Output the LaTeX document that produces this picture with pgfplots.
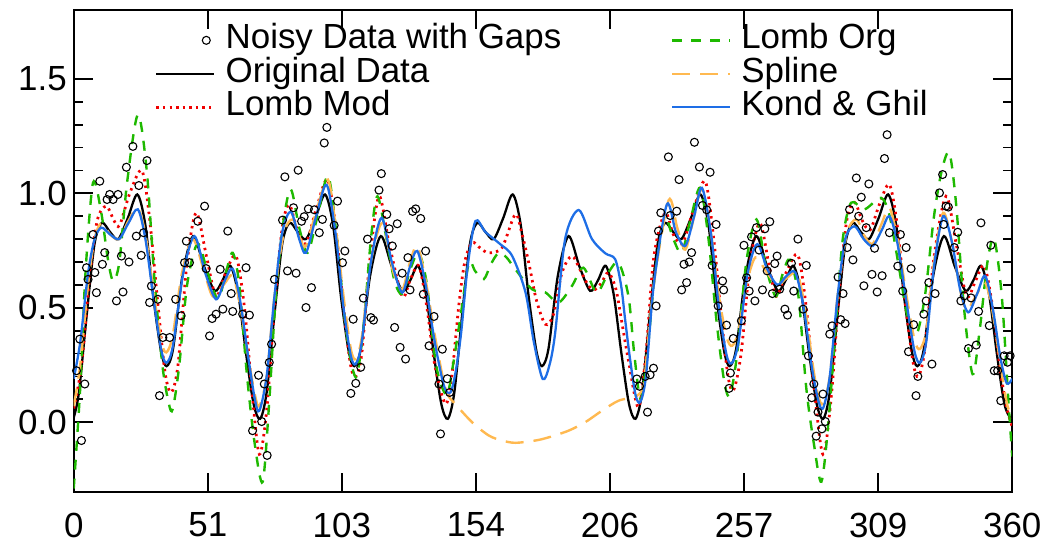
\documentclass[border=0pt]{standalone}
\usepackage{fontspec}
\setmainfont{Liberation Sans}
\usepackage{pgfplots}
\pgfplotsset{compat=1.18}
\usepackage{pgfplotstable}

\definecolor{lombred}{RGB}{240,0,0}
\definecolor{lombgreen}{RGB}{30,185,0}
\definecolor{splineorange}{RGB}{255,185,80}
\definecolor{kgblue}{RGB}{30,110,230}

% noisy samples (gap between 144 and 216)
\pgfplotstableread{
x y
1.07 0.225
2.33 0.363
2.97 -0.08
4.25 0.167
4.9 0.675
5.5 0.624
7.4 0.82
8.1 0.654
8.7 0.566
10.0 1.053
11.0 0.69
11.9 0.741
12.8 0.973
13.8 0.995
15.1 0.973
16.4 0.53
17.0 0.995
18.3 0.726
18.9 0.569
20.2 1.114
21.2 0.70
22.7 1.205
24.0 0.813
25.0 1.034
25.9 0.729
26.8 0.828
28.1 1.143
29.1 0.523
29.8 0.595
32.3 0.537
32.9 0.116
34.2 0.37
36.8 0.37
39.1 0.537
41.2 0.465
42.5 0.697
43.2 0.791
44.4 0.697
47.6 0.878
50.2 0.944
50.8 0.671
52.1 0.377
53.1 0.453
54.6 0.472
56.2 0.668
57.2 0.494
59.1 0.835
60.4 0.562
61.0 0.484
64.8 0.472
66.1 0.675
67.4 0.468
68.6 -0.037
70.9 0.205
72.1 0.003
73.1 0.167
74.2 -0.145
75.0 0.261
75.9 0.341
77.0 0.624
80.1 0.883
81.0 1.072
82.0 0.661
84.3 0.937
85.3 0.651
86.1 1.101
87.4 0.878
88.4 0.898
89.1 0.501
90.0 0.932
91.2 0.588
92.3 0.928
94.2 0.828
95.4 0.886
96.1 1.22
97.1 1.288
99.9 0.86
101.2 0.966
103.1 0.697
104.0 0.748
106.3 0.126
107.2 0.45
108.2 0.17
110.1 0.24
111.1 0.542
112.7 0.80
114.0 0.457
115.0 0.446
117.1 1.014
118.0 1.086
120.1 0.908
121.0 0.845
122.2 0.77
123.1 0.414
124.1 0.867
125.2 0.327
126.0 0.651
127.3 0.276
128.2 0.719
129.0 0.578
130.0 0.921
131.2 0.932
133.1 0.89
134.1 0.559
135.0 0.748
136.3 0.334
138.2 0.462
140.1 0.167
140.7 -0.051
141.4 0.319
143.3 0.19
144.2 0.13
216.0 0.189
217.0 0.157
219.2 0.20
220.1 0.044
221.1 0.207
222.4 0.236
223.4 0.508
224.3 0.835
225.2 0.915
228.1 1.159
228.8 0.903
231.3 0.922
232.2 1.06
233.2 0.578
234.1 0.69
235.1 0.61
236.1 0.70
237.0 0.741
238.1 1.223
240.0 1.115
241.2 0.947
242.8 0.928
244.1 1.092
244.9 0.685
246.4 0.864
247.2 0.508
248.9 0.617
249.3 0.578
250.4 0.424
251.4 0.148
251.9 0.215
253.0 0.366
256.1 0.443
257.1 0.773
258.1 0.631
259.1 0.573
260.0 0.81
261.3 0.53
261.9 0.85
262.9 0.752
264.2 0.578
265.1 0.845
266.0 0.661
267.0 0.876
268.0 0.562
268.9 0.693
269.8 0.726
270.8 0.581
272.8 0.494
273.8 0.468
275.3 0.694
276.2 0.573
277.8 0.80
279.8 0.494
281.0 0.685
281.8 0.29
283.1 0.107
283.9 0.167
284.8 -0.061
285.5 0.044
287.0 -0.029
287.4 0.123
288.3 0.003
290.0 0.385
290.9 0.421
293.2 0.634
294.2 0.448
295.1 0.562
295.9 0.431
296.7 0.763
297.6 0.929
298.9 0.709
300.2 1.067
301.1 0.90
302.1 0.983
303.1 0.596
304.0 0.85
305.0 1.041
306.2 0.646
307.2 0.76
308.2 0.569
310.1 0.64
311.0 1.152
312.0 1.256
312.9 0.828
316.1 0.682
317.1 0.82
318.0 0.573
319.3 0.763
320.2 0.308
321.2 0.671
322.2 0.426
323.1 0.116
323.8 0.20
326.1 0.472
327.0 0.53
328.0 0.61
329.2 0.254
330.4 0.562
332.1 1.002
333.3 1.082
333.7 0.864
334.6 0.944
335.5 0.94
337.8 0.763
339.1 0.83
340.3 0.53
341.6 0.552
343.2 0.322
344.2 0.543
346.2 0.337
347.1 0.484
348.0 0.871
351.2 0.422
351.8 0.773
353.1 0.225
354.4 0.225
355.6 0.094
356.9 0.29
358.2 0.262
359.2 0.29
}\noisy

% original signal
\pgfplotstableread{
x y
0 0.02
2.0 0.13
5.0 0.47
8.0 0.78
10.8 0.871
14.0 0.83
17.1 0.80
20.7 0.89
24.4 0.995
27.5 0.86
30.5 0.55
33.5 0.31
35.6 0.245
38.1 0.32
41.7 0.64
45.8 0.813
50.0 0.68
54.1 0.574
57.1 0.62
60.1 0.683
63.1 0.56
66.1 0.30
69.0 0.08
71.5 0.015
74.0 0.13
77.0 0.47
80.0 0.78
82.8 0.871
86.0 0.83
89.1 0.80
92.7 0.89
96.4 0.995
99.5 0.86
102.5 0.55
105.5 0.31
107.6 0.245
110.1 0.32
113.7 0.64
117.8 0.813
122.0 0.68
126.1 0.574
129.1 0.62
132.1 0.683
135.1 0.56
138.1 0.30
141.0 0.08
143.5 0.015
146.0 0.13
149.0 0.47
152.0 0.78
154.8 0.871
158.0 0.83
161.1 0.80
164.7 0.89
168.4 0.995
171.5 0.86
174.5 0.55
177.5 0.31
179.6 0.245
182.1 0.32
185.7 0.64
189.8 0.813
194.0 0.68
198.1 0.574
201.1 0.62
204.1 0.683
207.1 0.56
210.1 0.30
213.0 0.08
215.5 0.015
218.0 0.13
221.0 0.47
224.0 0.78
226.8 0.871
230.0 0.83
233.1 0.80
236.7 0.89
240.4 0.995
243.5 0.86
246.5 0.55
249.5 0.31
251.6 0.245
254.1 0.32
257.7 0.64
261.8 0.813
266.0 0.68
270.1 0.574
273.1 0.62
276.1 0.683
279.1 0.56
282.1 0.30
285.0 0.08
287.5 0.015
290.0 0.13
293.0 0.47
296.0 0.78
298.8 0.871
302.0 0.83
305.1 0.80
308.7 0.89
312.4 0.995
315.5 0.86
318.5 0.55
321.5 0.31
323.6 0.245
326.1 0.32
329.7 0.64
333.8 0.813
338.0 0.68
342.1 0.574
345.1 0.62
348.1 0.683
351.1 0.56
354.1 0.30
357.0 0.08
359.5 0.015
360 0.02
}\original

% modified Lomb reconstruction
\pgfplotstableread{
x y
0 0.06
3 0.25
6 0.62
9 0.88
12.5 0.944
15.5 0.88
17.6 0.86
21.5 1.0
26.1 1.10
29 0.9
32 0.55
35 0.22
37.4 0.13
40 0.25
43.5 0.70
47 0.915
51 0.72
54.6 0.55
58.5 0.66
62.3 0.725
65.5 0.50
68.5 0.12
71.2 -0.14
74 0.05
77 0.50
80 0.85
82.7 0.95
86 0.83
89.1 0.78
93 0.93
97.3 1.06
100.5 0.85
103.5 0.50
106.2 0.25
108.2 0.20
110.5 0.30
113.5 0.70
117.1 0.987
121 0.78
126 0.55
129 0.62
132.4 0.683
135.5 0.50
138.5 0.25
142.6 0.08
145 0.20
147.7 0.508
150 0.70
152.8 0.785
156 0.76
159.2 0.74
164.3 0.763
169.4 0.908
172 0.82
174.8 0.683
177.4 0.537
180.9 0.428
184 0.47
187.3 0.654
191.1 0.726
194.5 0.66
197.5 0.595
200 0.58
202.5 0.61
205.1 0.654
208 0.58
210.5 0.42
212.8 0.27
216.6 0.065
219.5 0.30
222.5 0.72
226.8 0.915
230 0.82
233.5 0.78
237.5 0.92
242.2 1.053
245.5 0.80
248.5 0.45
251 0.20
253.1 0.14
256 0.30
259.5 0.70
263.2 0.87
266.5 0.70
269.5 0.55
273.5 0.66
277.8 0.73
281 0.50
284 0.15
287.4 -0.14
290.5 0.10
293.5 0.55
296.5 0.88
299.5 0.96
302.5 0.88
305.5 0.84
309 0.95
312.9 1.038
316 0.85
319 0.52
322 0.26
324 0.20
326.5 0.32
330 0.72
334.6 0.987
338.5 0.78
342.5 0.55
346 0.62
349.3 0.683
352.5 0.50
355.5 0.22
358 0.06
360 -0.02
}\lombmod

% original Lomb reconstruction
\pgfplotstableread{
x y
0 -0.29
2.5 0.15
4.5 0.65
7.4 1.046
10.5 0.92
13 0.72
15.1 0.617
17.5 0.70
20.5 1.05
24.6 1.343
28 1.10
31 0.62
34 0.25
36.5 0.08
38 0.058
40.5 0.25
43.5 0.60
47.5 0.78
51.5 0.65
55.4 0.537
58.5 0.66
61 0.74
63.5 0.60
66.5 0.20
69.5 -0.10
72.5 -0.26
75 0.09
77.5 0.55
80.5 0.88
83.3 1.017
86.5 0.85
89.7 0.74
93.5 0.90
97.6 1.075
101 0.80
104.5 0.40
108.2 0.196
111 0.40
114 0.80
116.5 0.987
120 0.80
123 0.62
126 0.56
129.5 0.68
132.4 0.74
135.5 0.60
139 0.25
143 0.12
145.5 0.25
148.6 0.48
151.6 0.697
154 0.66
157.3 0.625
160 0.69
163 0.74
166 0.72
169.4 0.668
175.8 0.581
180.9 0.567
186 0.523
191.1 0.595
195.5 0.675
200.6 0.567
205.1 0.654
209 0.697
212.8 0.55
215 0.30
217.5 0.10
220 0.30
223 0.65
226.8 0.886
230 0.80
233.2 0.74
236.5 0.88
240.3 1.024
243.5 0.80
246.5 0.45
249.5 0.18
251.7 0.116
254.5 0.30
258 0.70
261.9 0.886
265.5 0.68
269.3 0.55
272 0.65
274.7 0.71
278 0.55
281 0.15
284 -0.10
286.8 -0.26
289.5 0.00
292.5 0.45
295 0.80
298.2 0.959
303.3 0.93
309.7 0.98
313 0.90
316.5 0.68
320 0.45
323.1 0.377
326.5 0.55
330 0.90
333 1.10
335.9 1.176
338.5 0.95
341.5 0.50
344.8 0.21
347.5 0.40
350.5 0.70
353.1 0.80
356 0.55
358.5 0.10
360 -0.15
}\lomborg

% cubic spline through the samples
\pgfplotstableread{
x y
0 0.07
2.5 0.25
5.5 0.60
8 0.80
10.6 0.87
14 0.82
17.4 0.80
21 0.88
24.6 0.935
27.5 0.82
30.5 0.58
33.5 0.36
35.5 0.305
38 0.38
41.5 0.65
45.6 0.80
49.5 0.68
53.3 0.55
57.5 0.60
61 0.64
64 0.50
67 0.28
69.5 0.12
71.2 0.07
74 0.20
77 0.55
80.5 0.82
84 0.886
87 0.80
89.1 0.77
93 0.92
97.5 1.06
100.5 0.85
103.5 0.55
106.3 0.32
108.2 0.276
110.5 0.37
114 0.70
118.4 0.87
122.5 0.66
126 0.58
129 0.70
131.8 0.77
135 0.62
138.5 0.38
141.5 0.20
143.5 0.12
146.4 0.079
152.8 0.0
159.2 -0.058
164.3 -0.08
169.4 -0.09
177.1 -0.08
182.2 -0.066
189.8 -0.037
196.2 0.0
202.6 0.05
209 0.094
216.6 0.12
219 0.20
222.5 0.60
228.2 0.97
231.5 0.85
234.6 0.754
238 0.90
241 1.02
244.5 0.82
247.5 0.55
250.5 0.37
252.6 0.334
255 0.40
258 0.60
261.5 0.72
265.5 0.66
269.9 0.60
273.5 0.63
277.5 0.65
280.5 0.50
283.5 0.25
285.5 0.12
287.4 0.08
290 0.20
293 0.55
296.5 0.82
300.2 0.886
303.5 0.81
306.5 0.78
310 0.87
312.9 0.937
316 0.80
319.5 0.55
322.5 0.36
324.6 0.32
327 0.40
330 0.70
333.5 0.915
337 0.78
340 0.58
342.4 0.49
346 0.55
349.6 0.61
352.5 0.48
355.5 0.25
358 0.08
360 0.02
}\spline

% Kondrashov & Ghil gap filling
\pgfplotstableread{
x y
0 0.19
2.5 0.35
5.5 0.65
8 0.80
10.6 0.85
14 0.82
17.4 0.80
21 0.87
24.6 0.93
27.5 0.80
30.5 0.55
33.5 0.32
35.5 0.26
38 0.33
42 0.65
46.3 0.813
50.5 0.65
54.6 0.537
58 0.62
61 0.67
64 0.52
67 0.28
69.5 0.10
71.2 0.05
74 0.20
77 0.55
80 0.83
83.3 0.92
86.5 0.80
89.1 0.74
93 0.90
97 1.037
100.5 0.82
103.5 0.50
106.3 0.29
108.2 0.255
110.5 0.35
114 0.70
118.1 0.893
122 0.70
126 0.566
129 0.68
131.8 0.748
135 0.60
138.5 0.35
142 0.16
144.5 0.13
146.5 0.22
148.6 0.39
151.1 0.68
154.1 0.879
158 0.83
163.7 0.777
168.2 0.726
173.3 0.567
176.5 0.35
179.9 0.189
182.5 0.25
184.7 0.392
188.5 0.80
193.7 0.927
198.8 0.80
203.9 0.738
207.7 0.712
210 0.595
211.5 0.45
213.4 0.276
215.5 0.12
217.3 0.088
219.5 0.20
222.5 0.60
227.5 0.951
231 0.83
234.6 0.77
238 0.90
241 1.024
244.5 0.82
247.5 0.50
250.5 0.29
252.6 0.26
255 0.35
258.5 0.65
262.2 0.778
266 0.67
269.9 0.60
273.5 0.64
276.8 0.654
280 0.50
283 0.25
285.5 0.10
287.4 0.06
290 0.20
293 0.55
296 0.80
299.5 0.856
303 0.80
306.5 0.77
310 0.84
312.9 0.90
316 0.78
319.5 0.52
322.5 0.31
324.6 0.26
327 0.35
330 0.68
333.5 0.90
337 0.78
340 0.58
343.1 0.48
346.5 0.56
349.6 0.64
352.5 0.50
355.5 0.28
357.9 0.17
360 0.19
}\kondghil

\begin{document}
\begin{tikzpicture}
\begin{axis}[
  scale only axis,
  width=470.4pt, height=241.5pt,
  xmin=0, xmax=360, ymin=-0.304, ymax=1.801,
  xtick={0,51.4286,102.857,154.286,205.714,257.143,308.571,360},
  xticklabels={0,51,103,154,206,257,309,360},
  ytick={0,0.5,1,1.5},
  yticklabels={0.0,0.5,1.0,1.5},
  minor y tick num=4,
  tick align=inside,
  major tick length=9.5pt,
  minor tick length=4.5pt,
  tick style={black, line width=0.9pt},
  axis line style={line width=1pt},
  tick label style={font=\fontsize{17.5}{21}\selectfont},
  xticklabel style={yshift=-7pt},
  legend columns=3,
  transpose legend,
  legend style={at={(rel axis cs:0.0862,0.9725)}, anchor=north west,
    draw=none, fill=none, inner sep=0pt,
    font=\fontsize{17.5}{21}\selectfont,
    nodes={inner sep=0pt, text height=12.6pt, text depth=4.15pt},
    row sep=0pt,
    /tikz/every odd column/.append style={column sep=5pt},
    /tikz/every even column/.append style={column sep=55pt}},
  legend cell align=left,
  legend image code/.code={\draw[#1] (0pt,0pt) -- (29pt,0pt);},
]
\addplot[only marks, mark=o, mark size=2pt, black,
  mark options={solid, fill=none, draw=black, line width=0.55pt},
  legend image code/.code={\path (0pt,0pt) (29pt,0pt);
    \draw[black, line width=0.55pt] (25pt,0pt) circle (2pt);}]
  table {\noisy};
\addlegendentry{Noisy Data with Gaps}
\addplot[black, line width=1.15pt, smooth, mark=none] table {\original};
\addlegendentry{Original Data}
\addplot[lombred, line width=1.4pt, smooth, mark=none, dash pattern=on 1.2pt off 2.1pt] table {\lombmod};
\addlegendentry{Lomb Mod}
\addplot[lombgreen, line width=1.2pt, smooth, mark=none, dash pattern=on 5pt off 4.5pt] table {\lomborg};
\addlegendentry{Lomb Org}
\addplot[splineorange, line width=1.2pt, smooth, mark=none, dash pattern=on 9pt off 5pt] table {\spline};
\addlegendentry{Spline}
\addplot[kgblue, line width=1.15pt, smooth, mark=none] table {\kondghil};
\addlegendentry{Kond \& Ghil}
\end{axis}
\path (-36.95pt,-26.5pt) rectangle (487.05pt,246.5pt);
\end{tikzpicture}
\end{document}
